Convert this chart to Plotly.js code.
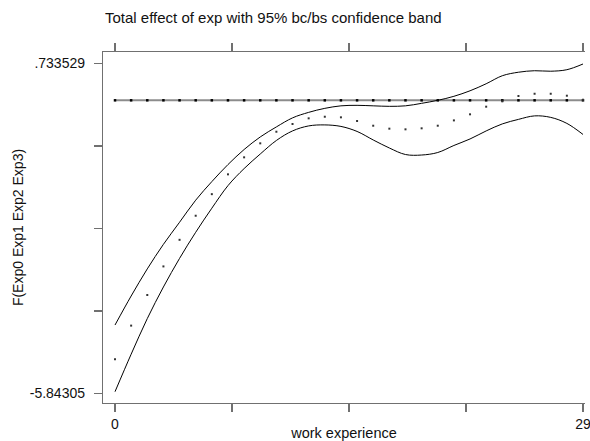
<!DOCTYPE html>
<html>
<head>
<meta charset="utf-8">
<script src="https://cdn.plot.ly/plotly-3.0.1.min.js"></script>
<style>html,body{margin:0;padding:0;background:#fff}#chart{width:590px;height:441px}</style>
</head>
<body>
<div id="chart"></div>
<script>
// work experience (years)
var experience = [0,1,2,3,4,5,6,7,8,9,10,11,12,13,14,15,16,17,18,19,20,21,22,23,24,25,26,27,28,29];
// total effect estimate (dots)
var effect = [-5.16,-4.49,-3.88,-3.31,-2.78,-2.30,-1.87,-1.475,-1.136,-0.857,-0.626,-0.472,-0.359,-0.327,-0.339,-0.412,-0.506,-0.565,-0.578,-0.558,-0.506,-0.40,-0.279,-0.127,-0.02,0.086,0.131,0.131,0.092,0.01];
// upper 95% bc/bs confidence bound
var upper = [-4.478,-3.90,-3.36,-2.87,-2.43,-1.99,-1.62,-1.28,-0.98,-0.73,-0.53,-0.35,-0.24,-0.16,-0.11,-0.10,-0.11,-0.12,-0.11,-0.06,0.0,0.08,0.19,0.33,0.49,0.56,0.59,0.58,0.61,0.724];
// lower 95% bc/bs confidence bound
var lower = [-5.807,-5.06,-4.35,-3.72,-3.15,-2.63,-2.15,-1.70,-1.36,-1.07,-0.80,-0.61,-0.51,-0.49,-0.52,-0.62,-0.79,-0.95,-1.08,-1.09,-1.04,-0.90,-0.77,-0.61,-0.47,-0.38,-0.31,-0.34,-0.46,-0.68];
// reference line at zero
var zeroLine = [0,0,0,0,0,0,0,0,0,0,0,0,0,0,0,0,0,0,0,0,0,0,0,0,0,0,0,0,0,0];

var xTickVals = [0, 7.25, 14.5, 21.75, 29];
var xTickText = ['0', '', '', '', '29'];
var yTickVals = [-5.84305, -4.19891, -2.55477, -0.91062, 0.733529];
var yTickText = ['-5.84305', '', '', '', '.733529'];

var font = 'Liberation Sans, Arial, Helvetica, sans-serif';

var traces = [
  {x: experience, y: zeroLine, mode: 'lines+markers', type: 'scatter',
   line: {color: '#8c8c8c', width: 2},
   marker: {symbol: 'square', size: 2.5, color: '#000', line: {width: 0}}, hoverinfo: 'skip'},
  {x: experience, y: upper, mode: 'lines', type: 'scatter',
   line: {color: '#000', width: 1, shape: 'spline', smoothing: 1}},
  {x: experience, y: lower, mode: 'lines', type: 'scatter',
   line: {color: '#000', width: 1, shape: 'spline', smoothing: 1}},
  {x: experience, y: effect, mode: 'markers', type: 'scatter',
   marker: {symbol: 'square', size: 2, color: '#333', line: {width: 0}}}
];

var axisCommon = {
  showgrid: false, zeroline: false, showline: true,
  linecolor: '#707070', linewidth: 1.2,
  ticks: 'outside', ticklen: 8, tickwidth: 1.2, tickcolor: '#707070',
  tickfont: {family: font, size: 14, color: '#111'},
  ticklabeloverflow: 'allow'
};

var layout = {
  width: 590, height: 441,
  margin: {l: 103, r: 5, t: 52, b: 38},
  paper_bgcolor: '#fff', plot_bgcolor: '#fff',
  showlegend: false,
  font: {family: font, color: '#111'},
  title: {text: 'Total effect of exp with 95% bc/bs confidence band',
          font: {family: font, size: 15, color: '#111'},
          x: 105/590, xanchor: 'left', y: 1 - 18/441, yanchor: 'middle'},
  xaxis: Object.assign({}, axisCommon, {
    range: [-0.744, 29.124], mirror: 'ticks',
    tickmode: 'array', tickvals: xTickVals, ticktext: xTickText,
    title: {text: 'work experience', font: {family: font, size: 14.5, color: '#111'}, standoff: 0}
  }),
  yaxis: Object.assign({}, axisCommon, {
    range: [-6.032, 0.963],
    tickmode: 'array', tickvals: yTickVals, ticktext: yTickText,
    ticklabelstandoff: 6,
    title: {text: 'F(Exp0 Exp1 Exp2 Exp3)', font: {family: font, size: 14, color: '#111'}, standoff: 2}
  })
};

Plotly.newPlot('chart', traces, layout, {staticPlot: true, displayModeBar: false});
</script>
</body>
</html>
